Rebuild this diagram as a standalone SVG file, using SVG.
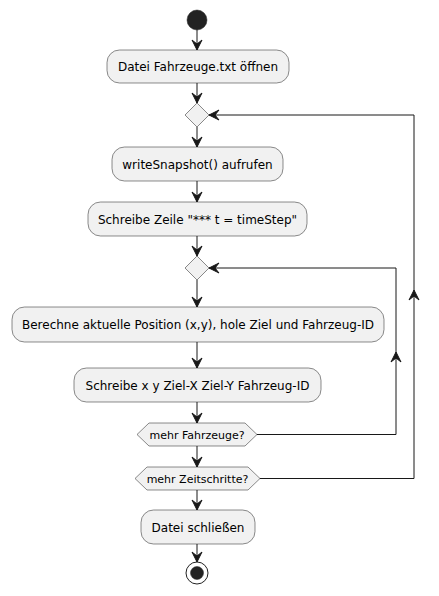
<svg xmlns="http://www.w3.org/2000/svg" xmlns:xlink="http://www.w3.org/1999/xlink" width="439" height="596" viewBox="0 0 439 596">
<style>
.act{fill:#F1F1F1;stroke:#181818;stroke-width:0.5}
.lbl{font-family:"DejaVu Sans","Liberation Sans",sans-serif;font-size:12px;fill:#000;text-anchor:middle}
.hl{font-family:"DejaVu Sans","Liberation Sans",sans-serif;font-size:11px;fill:#000;text-anchor:middle}
.ln{fill:none;stroke:#181818;stroke-width:1}
.ah{fill:#181818;stroke:#181818;stroke-width:1}
</style>
<defs>
<path id="arr" d="M0,0 L-5,-10 L0,-6 L5,-10 Z"/>
</defs>
<rect width="439" height="596" fill="#FFFFFF"/>
<g id="connectors">
<line class="ln" x1="197" y1="30" x2="197" y2="50"/>
<use xlink:href="#arr" class="ah" transform="translate(197,50)"/>
<line class="ln" x1="197" y1="83" x2="197" y2="103"/>
<use xlink:href="#arr" class="ah" transform="translate(197,103)"/>
<line class="ln" x1="197" y1="127" x2="197" y2="147"/>
<use xlink:href="#arr" class="ah" transform="translate(197,147)"/>
<line class="ln" x1="197" y1="181" x2="197" y2="202"/>
<use xlink:href="#arr" class="ah" transform="translate(197,202)"/>
<line class="ln" x1="197" y1="236" x2="197" y2="256"/>
<use xlink:href="#arr" class="ah" transform="translate(197,256)"/>
<line class="ln" x1="197" y1="280" x2="197" y2="307"/>
<use xlink:href="#arr" class="ah" transform="translate(197,307)"/>
<line class="ln" x1="197" y1="342" x2="197" y2="368"/>
<use xlink:href="#arr" class="ah" transform="translate(197,368)"/>
<line class="ln" x1="197" y1="402" x2="197" y2="423"/>
<use xlink:href="#arr" class="ah" transform="translate(197,423)"/>
<line class="ln" x1="197" y1="446" x2="197" y2="467"/>
<use xlink:href="#arr" class="ah" transform="translate(197,467)"/>
<line class="ln" x1="197" y1="490" x2="197" y2="510"/>
<use xlink:href="#arr" class="ah" transform="translate(197,510)"/>
<line class="ln" x1="197" y1="544" x2="197" y2="562"/>
<use xlink:href="#arr" class="ah" transform="translate(197,562)"/>
<path class="ln" d="M257,434.5 H396 V268 H209"/>
<use xlink:href="#arr" class="ah" transform="translate(396,352) rotate(180)"/>
<use xlink:href="#arr" class="ah" transform="translate(209,268) rotate(90)"/>
<path class="ln" d="M260,478.5 H414 V115 H209"/>
<use xlink:href="#arr" class="ah" transform="translate(414,290) rotate(180)"/>
<use xlink:href="#arr" class="ah" transform="translate(209,115) rotate(90)"/>
</g>
<g id="start"><circle cx="197" cy="20" r="10" fill="#222222" stroke="#222222" stroke-width="0.5"/></g>
<g id="open"><rect class="act" x="107" y="50" width="182" height="33" rx="12.5"/><text class="lbl" x="198" y="71">Datei Fahrzeuge.txt öffnen</text></g>
<g id="merge1"><polygon class="act" points="197,103 209,115 197,127 185,115"/></g>
<g id="snapshot"><rect class="act" x="112" y="147" width="171" height="34" rx="12.5"/><text class="lbl" x="197.5" y="168.5">writeSnapshot() aufrufen</text></g>
<g id="zeile"><rect class="act" x="88" y="202" width="219" height="34" rx="12.5"/><text class="lbl" x="197.5" y="223.5">Schreibe Zeile "*** t = timeStep"</text></g>
<g id="merge2"><polygon class="act" points="197,256 209,268 197,280 185,268"/></g>
<g id="berechne"><rect class="act" x="12" y="307" width="372" height="35" rx="12.5"/><text class="lbl" x="198" y="329">Berechne aktuelle Position (x,y), hole Ziel und Fahrzeug-ID</text></g>
<g id="schreibe"><rect class="act" x="74" y="368" width="247" height="34" rx="12.5"/><text class="lbl" x="197.5" y="389.5">Schreibe x y Ziel-X Ziel-Y Fahrzeug-ID</text></g>
<g id="fahrzeuge"><polygon class="act" points="149,423 245,423 257,434.5 245,446 149,446 137,434.5"/><text class="hl" x="197" y="438.5">mehr Fahrzeuge?</text></g>
<g id="zeitschritte"><polygon class="act" points="147,467 248,467 260,478.5 248,490 147,490 135,478.5"/><text class="hl" x="197.5" y="482.5">mehr Zeitschritte?</text></g>
<g id="close"><rect class="act" x="141" y="510" width="114" height="34" rx="12.5"/><text class="lbl" x="198" y="531.5">Datei schließen</text></g>
<g id="end"><circle cx="197" cy="573" r="11" fill="none" stroke="#222222" stroke-width="1"/><circle cx="197" cy="573" r="6.5" fill="#222222" stroke="#222222" stroke-width="0.5"/></g>
</svg>
